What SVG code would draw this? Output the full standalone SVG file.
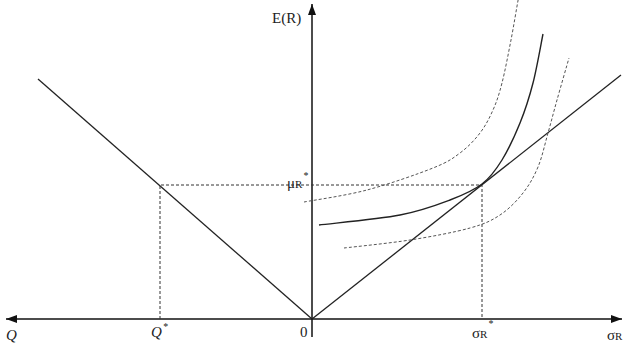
<svg xmlns="http://www.w3.org/2000/svg" width="630" height="352" viewBox="0 0 630 352">
<style>
.ax{stroke:#111;stroke-width:1.5;fill:none}
.ln{stroke:#222;stroke-width:1.3;fill:none}
.cv{stroke:#222;stroke-width:1.4;fill:none}
.gd{stroke:#333;stroke-width:1;stroke-dasharray:3 2;fill:none}
.dc{stroke:#555;stroke-width:1;stroke-dasharray:3 2;fill:none}
.t{font-family:"Liberation Serif","Times New Roman",serif;fill:#222;font-size:15px}
.it{font-style:italic}
.sub{font-size:11px}
.st{font-size:10px}
</style>
<defs>
<marker id="ah" viewBox="0 0 11 8" refX="11" refY="4" markerWidth="11" markerHeight="8" markerUnits="userSpaceOnUse" orient="auto">
<path d="M0,0 L11,4 L0,8 Z" fill="#111"/>
</marker>
</defs>
<g id="axes">
<line class="ax" x1="312" y1="319" x2="6" y2="319" marker-end="url(#ah)"/>
<line class="ax" x1="312" y1="319" x2="622" y2="319" marker-end="url(#ah)"/>
<line class="ax" x1="312" y1="337" x2="312" y2="4" marker-end="url(#ah)"/>
</g>
<g id="connectors">
<line class="ln" x1="38" y1="79" x2="312" y2="319"/>
<line class="ln" x1="312" y1="319" x2="621" y2="75"/>
<polyline class="gd" points="160,319 160,185 482,185 482,319"/>
<path id="solid-curve" class="cv" d="M319,225 C332.5,223.3 378.2,219.2 400,215 C421.8,210.8 436.3,205.2 450,200 C463.7,194.8 473.3,190.7 482,184 C490.7,177.3 495.7,170.2 502,160 C508.3,149.8 514.8,135.8 520,123 C525.2,110.2 529.2,97.8 533,83 C536.8,68.2 541.3,42.2 543,34"/>
<path id="upper-dashed" class="dc" d="M304,202 C314.5,200 345.5,195.7 367,190 C388.5,184.3 417.5,174.2 433,168 C448.5,161.8 452.2,158.8 460,153 C467.8,147.2 474.5,140.2 480,133 C485.5,125.8 489.3,118.3 493,110 C496.7,101.7 499,94.7 502,83 C505,71.3 508.3,53.8 511,40 C513.7,26.2 516.8,6.7 518.5,-2"/>
<path id="lower-dashed" class="dc" d="M344,248 C355,246.7 389,243.3 410,240 C431,236.7 455,232.2 470,228 C485,223.8 491.2,220.8 500,215 C508.8,209.2 516.7,201 523,193 C529.3,185 533.8,177 538,167 C542.2,157 544.8,144.2 548,133 C551.2,121.8 553.5,112.5 557,100 C560.5,87.5 567,65 569,58"/>
</g>
<g id="labels">
<text class="t" x="272" y="23" font-size="16">E(R)</text>
<text class="t" x="287" y="188">μ<tspan class="sub" dy="0">R</tspan><tspan class="st" dx="1" dy="-9">*</tspan></text>
<text class="t it" x="6" y="340">Q</text>
<text class="t it" x="151" y="337">Q<tspan class="st" dx="1" dy="-7">*</tspan></text>
<text class="t" x="300" y="337">0</text>
<text class="t" x="472" y="338">σ<tspan class="sub" dy="0">R</tspan><tspan class="st" dx="1" dy="-11">*</tspan></text>
<text class="t" x="607" y="340">σ<tspan class="sub" dy="0">R</tspan></text>
</g>
</svg>
